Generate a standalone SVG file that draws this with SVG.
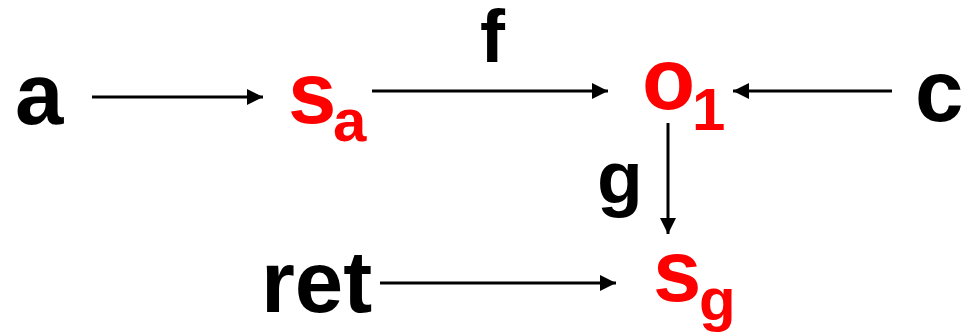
<svg xmlns="http://www.w3.org/2000/svg" width="970" height="335" viewBox="0 0 970 335">
<style>
text{font-family:"Liberation Sans",Arial,sans-serif;font-weight:bold}
.n{font-size:87px;fill:#000}
.r{font-size:87px;fill:#ff0000}
.sub{font-size:60px;fill:#ff0000}
.lbl{font-size:75px;fill:#000}
.e{stroke:#000;stroke-width:3;fill:none;marker-end:url(#ah)}
</style>
<defs>
<marker id="ah" markerUnits="userSpaceOnUse" markerWidth="16" markerHeight="18" viewBox="0 0 16 18" refX="16" refY="9" orient="auto">
<path d="M0,1 L16,9 L0,17 Z" fill="#000"/>
</marker>
</defs>
<g id="connectors">
<line class="e" x1="92" y1="97" x2="263" y2="97"/>
<line class="e" x1="372" y1="91" x2="608" y2="91"/>
<line class="e" x1="892" y1="91" x2="733" y2="91"/>
<line class="e" x1="668" y1="123" x2="668" y2="234"/>
<line class="e" x1="380" y1="283" x2="616" y2="283"/>
<text class="lbl" x="480" y="62">f</text>
<text class="lbl" x="597" y="203">g</text>
</g>
<g id="node-a"><text class="n" x="15" y="124">a</text></g>
<g id="node-sa"><text class="r" x="288" y="123">s</text><text class="sub" x="333" y="141">a</text></g>
<g id="node-o1"><text class="r" x="642" y="109">o</text><text class="sub" x="692" y="130">1</text></g>
<g id="node-c"><text class="n" x="915" y="121">c</text></g>
<g id="node-ret"><text class="n" x="261" y="312">ret</text></g>
<g id="node-sg"><text class="r" x="653" y="301">s</text><text class="sub" x="699" y="320">g</text></g>
</svg>
